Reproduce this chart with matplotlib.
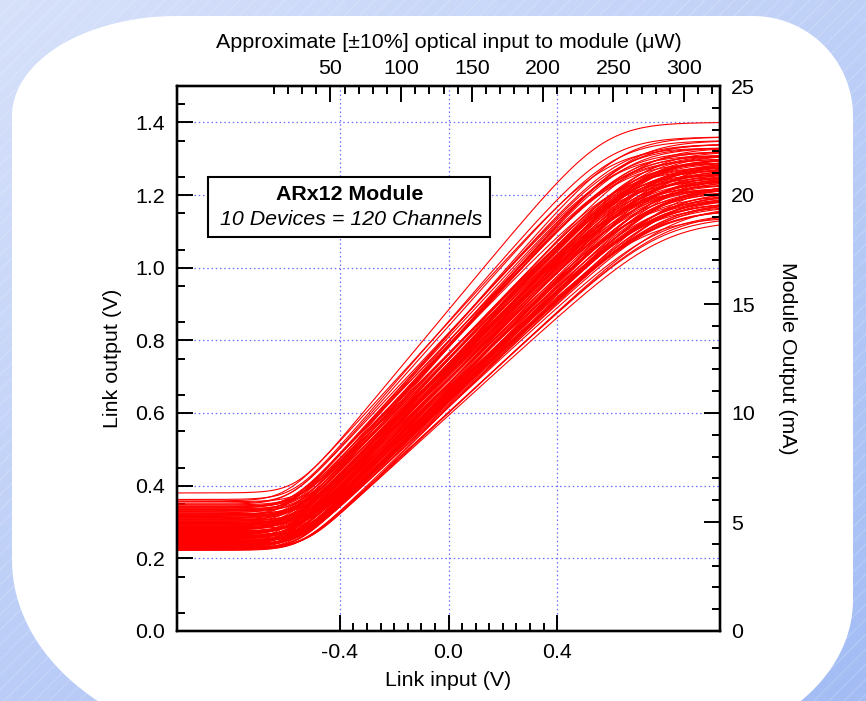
import numpy as np
import matplotlib
matplotlib.use("Agg")
import matplotlib.pyplot as plt
from matplotlib.patches import Polygon, Rectangle
from matplotlib.ticker import FixedLocator

plt.rcParams['font.family'] = ['Liberation Sans', 'DejaVu Sans']

# ---------------- data (per-channel transfer-curve parameters) -------------
# baseline output (V) for low input
baseline_v = [0.380, 0.352, 0.347, 0.338, 0.362, 0.331, 0.325, 0.344, 0.318, 0.309,
              0.336, 0.301, 0.295, 0.322, 0.288, 0.313, 0.282, 0.305, 0.276, 0.298,
              0.271, 0.291, 0.266, 0.284, 0.259, 0.279, 0.254, 0.273, 0.249, 0.268,
              0.245, 0.262, 0.241, 0.257, 0.237, 0.251, 0.233, 0.247, 0.229, 0.243,
              0.226, 0.239, 0.223, 0.235, 0.231, 0.356, 0.341, 0.327, 0.315, 0.303,
              0.293, 0.286, 0.278, 0.269, 0.261, 0.253, 0.246, 0.238, 0.232, 0.227,
              0.349, 0.334, 0.320, 0.311, 0.299, 0.289, 0.281, 0.274, 0.264, 0.256,
              0.250, 0.242, 0.236, 0.230, 0.224, 0.343, 0.329, 0.316, 0.306, 0.296,
              0.287, 0.277, 0.270, 0.263, 0.255, 0.248, 0.240, 0.234, 0.228, 0.222,
              0.358, 0.339, 0.323, 0.312, 0.302, 0.292, 0.283, 0.275, 0.267, 0.260,
              0.252, 0.244, 0.238, 0.231, 0.225, 0.333, 0.319, 0.307, 0.297, 0.285,
              0.272, 0.265, 0.258, 0.249, 0.241, 0.236, 0.229, 0.224, 0.280, 0.294]
# knee (turn-on) input voltage (V)
knee_v = [-0.56, -0.58, -0.55, -0.59, -0.57, -0.54, -0.60, -0.56, -0.53, -0.58,
          -0.55, -0.61, -0.57, -0.54, -0.59, -0.56, -0.52, -0.58, -0.55, -0.60,
          -0.57, -0.53, -0.59, -0.56, -0.54, -0.61, -0.55, -0.58, -0.53, -0.57,
          -0.60, -0.56, -0.54, -0.59, -0.55, -0.62, -0.57, -0.53, -0.58, -0.56,
          -0.54, -0.59, -0.55, -0.57, -0.60, -0.53, -0.58, -0.56, -0.61, -0.55,
          -0.57, -0.54, -0.59, -0.56, -0.52, -0.58, -0.55, -0.60, -0.57, -0.54,
          -0.59, -0.56, -0.53, -0.58, -0.55, -0.61, -0.57, -0.54, -0.59, -0.56,
          -0.53, -0.58, -0.55, -0.60, -0.57, -0.54, -0.59, -0.56, -0.52, -0.58,
          -0.55, -0.61, -0.57, -0.53, -0.59, -0.56, -0.54, -0.58, -0.55, -0.55,
          -0.60, -0.57, -0.54, -0.59, -0.56, -0.53, -0.58, -0.55, -0.61, -0.57,
          -0.54, -0.59, -0.56, -0.52, -0.58, -0.55, -0.60, -0.57, -0.53, -0.59,
          -0.56, -0.54, -0.58, -0.55, -0.61, -0.57, -0.53, -0.56, -0.59, -0.55]
# small-signal gain in the linear region (V/V)
gain = [0.90, 0.84, 0.80, 0.78, 0.86, 0.77, 0.82, 0.75, 0.79, 0.73,
        0.81, 0.76, 0.72, 0.85, 0.74, 0.78, 0.71, 0.83, 0.70, 0.77,
        0.74, 0.80, 0.69, 0.76, 0.72, 0.79, 0.70, 0.75, 0.73, 0.82,
        0.68, 0.77, 0.71, 0.74, 0.69, 0.80, 0.72, 0.76, 0.70, 0.78,
        0.68, 0.73, 0.69, 0.75, 0.71, 0.83, 0.79, 0.76, 0.81, 0.74,
        0.78, 0.72, 0.77, 0.75, 0.71, 0.79, 0.73, 0.70, 0.76, 0.72,
        0.80, 0.86, 0.74, 0.78, 0.82, 0.73, 0.77, 0.75, 0.79, 0.71,
        0.74, 0.78, 0.70, 0.73, 0.71, 0.81, 0.77, 0.84, 0.72, 0.76,
        0.79, 0.74, 0.81, 0.70, 0.77, 0.73, 0.75, 0.72, 0.78, 0.69,
        0.82, 0.79, 0.75, 0.80, 0.73, 0.77, 0.71, 0.76, 0.74, 0.80,
        0.72, 0.78, 0.71, 0.74, 0.70, 0.76, 0.83, 0.73, 0.79, 0.75,
        0.71, 0.77, 0.73, 0.78, 0.72, 0.75, 0.70, 0.74, 0.76, 0.80]
# saturated output level (V)
saturation_v = [1.40, 1.35, 1.31, 1.29, 1.36, 1.27, 1.33, 1.24, 1.30, 1.22,
                1.32, 1.25, 1.21, 1.34, 1.23, 1.28, 1.19, 1.33, 1.18, 1.26,
                1.22, 1.30, 1.17, 1.25, 1.20, 1.29, 1.16, 1.24, 1.21, 1.31,
                1.14, 1.26, 1.18, 1.23, 1.15, 1.28, 1.19, 1.25, 1.16, 1.27,
                1.13, 1.21, 1.15, 1.24, 1.18, 1.34, 1.30, 1.27, 1.32, 1.24,
                1.29, 1.22, 1.28, 1.25, 1.20, 1.30, 1.23, 1.18, 1.26, 1.21,
                1.31, 1.36, 1.24, 1.29, 1.33, 1.22, 1.28, 1.25, 1.30, 1.19,
                1.23, 1.29, 1.18, 1.22, 1.17, 1.32, 1.27, 1.35, 1.21, 1.26,
                1.30, 1.24, 1.32, 1.18, 1.28, 1.22, 1.25, 1.20, 1.29, 1.14,
                1.33, 1.30, 1.25, 1.31, 1.22, 1.27, 1.19, 1.26, 1.23, 1.31,
                1.21, 1.29, 1.19, 1.23, 1.16, 1.26, 1.34, 1.22, 1.30, 1.25,
                1.19, 1.28, 1.22, 1.29, 1.20, 1.24, 1.17, 1.23, 1.26, 1.31]

input_v = np.linspace(-1.0, 1.0, 401)

bottom_major = [-0.4, 0.0, 0.4]
bottom_labels = ['-0.4', '0.0', '0.4']
bottom_minor = [-0.35, -0.30, -0.25, -0.20, -0.15, -0.10, -0.05,
                0.05, 0.10, 0.15, 0.20, 0.25, 0.30, 0.35]
left_major = [0.0, 0.2, 0.4, 0.6, 0.8, 1.0, 1.2, 1.4]
left_labels = ['0.0', '0.2', '0.4', '0.6', '0.8', '1.0', '1.2', '1.4']
top_major = [50, 100, 150, 200, 250, 300]
top_minor = [10, 20, 30, 40, 60, 70, 80, 90, 110, 120, 130, 140, 160, 170, 180, 190,
             210, 220, 230, 240, 260, 270, 280, 290, 310, 320]
right_major = [0, 5, 10, 15, 20, 25]

# ---------------- figure -------------------------------------------------------------
W, H = 866, 701
FS = 15.4
fig = plt.figure(figsize=(W / 100, H / 100), dpi=100)

# background: blue gradient with faint diagonal stripes, white rounded panel
bg = fig.add_axes([0, 0, 1, 1])
bg.set_zorder(-10)
bg.axis('off')
gy, gx = np.mgrid[0:1:40j, 0:1:50j]
t = 0.45 * gx + 0.55 * gy
c0 = np.array([0.84, 0.88, 0.98])
c1 = np.array([0.64, 0.74, 0.96])
bg.imshow(c0 + (c1 - c0) * t[..., None], extent=(0, W, H, 0), aspect='auto',
          interpolation='bilinear', zorder=0)
for s in range(-H, W, 15):
    bg.plot([s, s + H], [H, 0], color='white', alpha=0.22, lw=0.7, zorder=1)


def panel_outline(x0, x1, y0, y1, corners):
    pts = []
    (rx1, ry1), (rx2, ry2), (rx3, ry3), (rx4, ry4) = corners
    for cx, cy, rx, ry, a0 in [(x0 + rx1, y0 + ry1, rx1, ry1, 180),
                               (x1 - rx2, y0 + ry2, rx2, ry2, 270),
                               (x1 - rx3, y1 - ry3, rx3, ry3, 0),
                               (x0 + rx4, y1 - ry4, rx4, ry4, 90)]:
        a = np.radians(np.linspace(a0, a0 + 90, 40))
        pts.append(np.column_stack([cx + rx * np.cos(a), cy + ry * np.sin(a)]))
    return np.vstack(pts)


bg.add_patch(Polygon(panel_outline(12, 853, 16, 750,
                                   [(165, 100), (100, 100), (200, 150), (260, 190)]),
                     closed=True, facecolor='white', edgecolor='none', zorder=2))
bg.set_xlim(0, W)
bg.set_ylim(H, 0)

# main axes
L, R, T, B = 177, 720, 86, 631
ax = fig.add_axes([L / W, 1 - B / H, (R - L) / W, (B - T) / H])
ax.set_facecolor('none')
ax.set_axisbelow(True)

for b, k, g, h in zip(baseline_v, knee_v, gain, saturation_v):
    ramp = 0.05 * np.logaddexp(0, (input_v - k) / 0.05)
    lin = g * ramp
    out = b + lin - 0.08 * np.logaddexp(0, (lin - (h - b)) / 0.08)
    ax.plot(input_v, out, color='#ff0000', lw=0.8, zorder=2)

ax.set_xlim(-1.0, 1.0)
ax.set_ylim(0, 1.5)
ax.xaxis.set_major_locator(FixedLocator(bottom_major))
ax.set_xticklabels(bottom_labels)
ax.xaxis.set_minor_locator(FixedLocator(bottom_minor))
ax.yaxis.set_major_locator(FixedLocator(left_major))
ax.set_yticklabels(left_labels)
ax.yaxis.set_minor_locator(FixedLocator([v / 100 for v in range(5, 150, 10)]))
ax.grid(True, which='major', color='#6f6fff', lw=0.9, linestyle=(0, (1.2, 2.2)))

spine_w = 1.6
tick_kw = dict(direction='in', width=1.4, labelsize=FS, colors='black')
ax.tick_params(which='both', top=False, right=False, **tick_kw)
ax.tick_params(which='major', length=11.5)
ax.tick_params(which='minor', length=5.8)
ax.tick_params(axis='x', which='both', pad=8.5)
ax.tick_params(axis='y', which='both', pad=8.5)
for sp in ax.spines.values():
    sp.set_linewidth(spine_w)

# top axis: optical input
ax2 = ax.twiny()
ax2.set_xlim(-58.5, 325.4)
ax2.xaxis.set_major_locator(FixedLocator(top_major))
ax2.xaxis.set_minor_locator(FixedLocator(top_minor))
ax2.tick_params(which='both', **tick_kw)
ax2.tick_params(which='major', length=11.5, pad=5.5)
ax2.tick_params(which='minor', length=5.8)
for sp in ax2.spines.values():
    sp.set_linewidth(spine_w)

# right axis: module output current
ax3 = ax.twinx()
ax3.set_ylim(0, 25)
ax3.yaxis.set_major_locator(FixedLocator(right_major))
ax3.yaxis.set_minor_locator(FixedLocator([v for v in range(1, 25) if v % 5]))
ax3.tick_params(which='both', **tick_kw)
ax3.tick_params(which='major', length=11.5, pad=8)
ax3.tick_params(which='minor', length=5.8)
for sp in ax3.spines.values():
    sp.set_linewidth(spine_w)

# axis labels
ax.set_xlabel('Link input (V)', fontsize=FS)
ax.xaxis.set_label_coords(0.5, -(680 - B) / (B - T))
ax.xaxis.label.set_va('center')
ax.set_ylabel('Link output (V)', fontsize=FS)
ax.yaxis.set_label_coords(-(L - 113) / (R - L), 0.5)
ax.yaxis.label.set_va('center')
ax.yaxis.label.set_ha('center')
ax2.set_xlabel('Approximate [±10%] optical input to module (μW)', fontsize=FS)
ax2.xaxis.set_label_coords(0.5, 1 + (T - 42) / (B - T))
ax2.xaxis.label.set_va('center')
ax3.set_ylabel('Module Output (mA)', fontsize=FS, rotation=270)
ax3.yaxis.set_label_coords(1 + (787 - R) / (R - L), 0.5)
ax3.yaxis.label.set_va('center')
ax3.yaxis.label.set_ha('center')

# annotation box
fig.add_artist(Rectangle((208 / W, 1 - 237 / H), 282 / W, 60 / H, transform=fig.transFigure,
                         facecolor='white', edgecolor='black', lw=1.5, zorder=5))
fig.text(349.5 / W, 1 - 195 / H, 'ARx12 Module', fontsize=FS, weight='bold',
         ha='center', va='center', zorder=6)
fig.text(351 / W, 1 - 219.5 / H, '10 Devices = 120 Channels', fontsize=FS, style='italic',
         ha='center', va='center', zorder=6)

fig.savefig('out.png', dpi=100)
